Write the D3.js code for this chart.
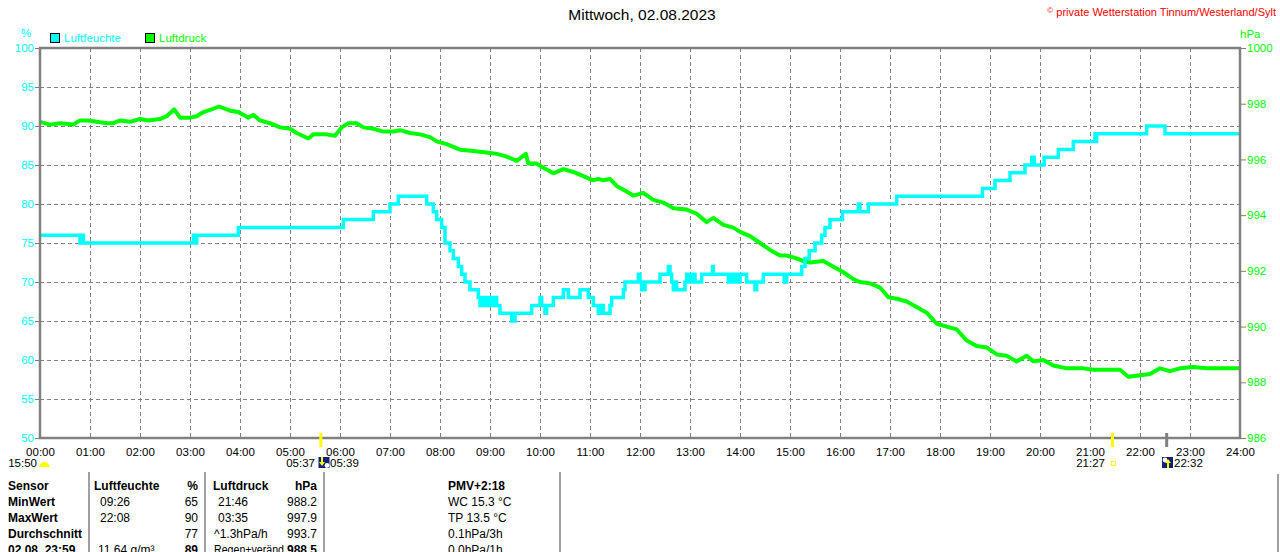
<!DOCTYPE html>
<html>
<head>
<meta charset="utf-8">
<script src="https://cdn.jsdelivr.net/npm/d3@7"></script>
<style>
  body { margin: 0; background: #fff; }
  svg { display: block; font-family: "Liberation Sans", Arial, sans-serif; }
</style>
</head>
<body>
<svg id="chart" width="1280" height="552"></svg>
<script>
/* ---------- data ---------- */
const title = 'Mittwoch, 02.08.2023';
const credit = 'private Wetterstation Tinnum/Westerland/Sylt';

const hourTicks = d3.range(0, 25);                       // 00:00 .. 24:00
const humTicks = [50, 55, 60, 65, 70, 75, 80, 85, 90, 95, 100];
const pressTicks = [986, 988, 990, 992, 994, 996, 998, 1000];

// Luftfeuchte, % — change points (value holds until the next entry)
const humidity = [
  ['00:00', 76], ['00:48', 75], ['00:50', 76], ['00:52', 75], ['03:04', 76], ['03:06', 75],
  ['03:08', 76], ['03:58', 77], ['06:04', 78], ['06:40', 79], ['07:00', 80], ['07:10', 81],
  ['07:44', 80], ['07:52', 79], ['07:56', 78], ['08:02', 77], ['08:06', 75], ['08:12', 74],
  ['08:16', 73], ['08:22', 72], ['08:26', 71], ['08:30', 70], ['08:36', 69], ['08:46', 68],
  ['08:48', 67], ['08:50', 68], ['08:52', 67], ['08:54', 68], ['08:56', 67], ['08:58', 68],
  ['09:00', 67], ['09:02', 68], ['09:04', 67], ['09:06', 68], ['09:08', 67], ['09:12', 66],
  ['09:26', 65], ['09:30', 66], ['09:50', 67], ['10:00', 68], ['10:02', 67], ['10:06', 66],
  ['10:08', 67], ['10:16', 68], ['10:28', 69], ['10:34', 68], ['10:48', 69], ['10:58', 68],
  ['11:04', 67], ['11:10', 66], ['11:12', 67], ['11:16', 66], ['11:24', 67], ['11:26', 68],
  ['11:40', 69], ['11:42', 70], ['11:58', 71], ['12:00', 70], ['12:02', 69], ['12:06', 70],
  ['12:24', 71], ['12:34', 72], ['12:36', 71], ['12:38', 70], ['12:40', 69], ['12:42', 70],
  ['12:44', 69], ['12:54', 70], ['12:56', 71], ['12:58', 70], ['13:00', 71], ['13:02', 70],
  ['13:04', 71], ['13:06', 70], ['13:14', 71], ['13:27', 72], ['13:28', 71], ['13:46', 70],
  ['13:48', 71], ['13:50', 70], ['13:54', 71], ['13:58', 70], ['14:00', 71], ['14:08', 70],
  ['14:18', 69], ['14:20', 70], ['14:28', 71], ['14:53', 70], ['14:56', 71], ['15:14', 72],
  ['15:18', 73], ['15:23', 74], ['15:30', 75], ['15:38', 76], ['15:42', 77], ['15:48', 78],
  ['16:03', 79], ['16:22', 80], ['16:24', 79], ['16:34', 80], ['17:08', 81], ['18:51', 82],
  ['19:06', 83], ['19:24', 84], ['19:42', 85], ['19:50', 86], ['19:53', 85], ['20:05', 86],
  ['20:22', 87], ['20:40', 88], ['21:06', 89], ['21:07', 88], ['21:08', 89], ['22:08', 90],
  ['22:30', 89], ['24:00', 89]
];

// Luftdruck, hPa
const pressure = [
  ['00:00', 997.35], ['00:12', 997.25], ['00:24', 997.3], ['00:40', 997.25], ['00:48', 997.4],
  ['00:58', 997.4], ['01:08', 997.35], ['01:20', 997.3], ['01:28', 997.3], ['01:36', 997.4],
  ['01:48', 997.35], ['02:00', 997.45], ['02:10', 997.4], ['02:24', 997.45], ['02:32', 997.55],
  ['02:41', 997.8], ['02:48', 997.5], ['03:00', 997.5], ['03:08', 997.55], ['03:16', 997.7],
  ['03:26', 997.8], ['03:35', 997.9], ['03:48', 997.75], ['03:58', 997.7], ['04:10', 997.5],
  ['04:16', 997.6], ['04:24', 997.4], ['04:36', 997.3], ['04:48', 997.15], ['05:00', 997.1],
  ['05:08', 996.95], ['05:22', 996.75], ['05:28', 996.9], ['05:44', 996.9], ['05:54', 996.85],
  ['06:02', 997.15], ['06:10', 997.3], ['06:20', 997.3], ['06:28', 997.15], ['06:40', 997.1],
  ['06:52', 997.0], ['07:04', 997.0], ['07:12', 997.05], ['07:24', 996.95], ['07:36', 996.9],
  ['07:48', 996.8], ['07:56', 996.65], ['08:08', 996.55], ['08:24', 996.35], ['08:40', 996.3],
  ['08:56', 996.25], ['09:08', 996.2], ['09:20', 996.1], ['09:32', 995.95], ['09:43', 996.2],
  ['09:46', 995.85], ['09:56', 995.85], ['10:04', 995.7], ['10:16', 995.5], ['10:28', 995.65],
  ['10:40', 995.55], ['10:52', 995.4], ['11:04', 995.25], ['11:10', 995.3], ['11:16', 995.25],
  ['11:24', 995.3], ['11:32', 995.05], ['11:44', 994.85], ['11:52', 994.7], ['12:04', 994.8],
  ['12:16', 994.55], ['12:28', 994.45], ['12:40', 994.25], ['12:56', 994.2], ['13:08', 994.05],
  ['13:20', 993.75], ['13:28', 993.9], ['13:40', 993.65], ['13:52', 993.55], ['14:00', 993.4],
  ['14:12', 993.25], ['14:24', 993.0], ['14:36', 992.75], ['14:48', 992.55], ['14:56', 992.55],
  ['15:08', 992.45], ['15:16', 992.35], ['15:24', 992.3], ['15:40', 992.35], ['15:52', 992.15],
  ['16:04', 991.95], ['16:16', 991.7], ['16:24', 991.6], ['16:36', 991.55], ['16:48', 991.4],
  ['16:58', 991.05], ['17:08', 991.0], ['17:20', 990.9], ['17:32', 990.7], ['17:44', 990.5],
  ['17:56', 990.1], ['18:08', 990.0], ['18:20', 989.9], ['18:32', 989.5], ['18:44', 989.3],
  ['18:56', 989.25], ['19:08', 989.0], ['19:20', 988.95], ['19:32', 988.75], ['19:44', 988.95],
  ['19:52', 988.75], ['20:04', 988.8], ['20:16', 988.6], ['20:32', 988.5], ['20:52', 988.5],
  ['21:04', 988.45], ['21:20', 988.45], ['21:36', 988.45], ['21:46', 988.2], ['22:00', 988.25],
  ['22:12', 988.3], ['22:24', 988.5], ['22:36', 988.4], ['22:48', 988.5], ['23:04', 988.55],
  ['23:20', 988.5], ['23:36', 988.5], ['24:00', 988.5]
];

// sun / moon events under the time axis
const events = [
  { time: '05:37', kind: 'sunrise' },
  { time: '21:27', kind: 'sunset' },
  { time: '22:32', kind: 'moonrise' }
];

// statistics table
const tableRows = [
  ['Sensor',       'Luftfeuchte', '%',  'Luftdruck',    'hPa',   'PMV+2:18'],
  ['MinWert',      '09:26',       '65', '21:46',        '988.2', 'WC 15.3 °C'],
  ['MaxWert',      '22:08',       '90', '03:35',        '997.9', 'TP 13.5 °C'],
  ['Durchschnitt', '',            '77', '^1.3hPa/h',    '993.7', '0.1hPa/3h'],
  ['02.08. 23:59', '11.64 g/m³',  '89', 'Regen+veränd', '988.5', '0.0hPa/1h']
];

/* ---------- setup ---------- */
const CYAN = '#00ffff', GREEN = '#00ff00', GRAY = '#808080', YELLOW = '#ffff00';
const svg = d3.select('#chart');
const L = 40, R = 1240, T = 48, B = 438;

const toMin = s => { const [h, m] = s.split(':').map(Number); return h * 60 + m; };
const x = d3.scaleLinear().domain([0, 1440]).range([L, R]);
const yHum = d3.scaleLinear().domain([50, 100]).range([B, T]);
const yPress = d3.scaleLinear().domain([986, 1000]).range([B, T]);

/* ---------- header ---------- */
svg.append('text').attr('x', 642).attr('y', 20).attr('text-anchor', 'middle')
  .attr('font-size', 15.5).attr('fill', '#000').text(title);

const cr = svg.append('text').attr('x', 1276).attr('y', 16).attr('text-anchor', 'end')
  .attr('font-size', 11).attr('fill', '#ff0000');
cr.append('tspan').attr('font-size', 8).attr('dy', -3).text('©');
cr.append('tspan').attr('dy', 3).text(' ' + credit);

svg.append('text').attr('x', 26).attr('y', 37).attr('text-anchor', 'middle')
  .attr('font-size', 11.5).attr('fill', CYAN).text('%');
svg.append('text').attr('x', 1240).attr('y', 38)
  .attr('font-size', 11.5).attr('fill', GREEN).text('hPa');

const legend = [
  { label: 'Luftfeuchte', color: CYAN, x: 50 },
  { label: 'Luftdruck', color: GREEN, x: 145 }
];
legend.forEach(d => {
  svg.append('rect').attr('x', d.x + 0.5).attr('y', 33.5).attr('width', 9).attr('height', 9)
    .attr('fill', d.color).attr('stroke', '#000').attr('stroke-width', 1);
  svg.append('text').attr('x', d.x + 14).attr('y', 42)
    .attr('font-size', 11.5).attr('fill', d.color).text(d.label);
});

/* ---------- grid ---------- */
const grid = svg.append('g').attr('stroke', GRAY).attr('stroke-width', 1)
  .attr('stroke-dasharray', '4,3').attr('shape-rendering', 'crispEdges');
grid.selectAll('.vg').data(hourTicks.slice(1, -1)).join('line')
  .attr('x1', h => x(h * 60)).attr('x2', h => x(h * 60)).attr('y1', T).attr('y2', B);
grid.selectAll('.hg').data(humTicks.slice(1, -1)).join('line')
  .attr('x1', L).attr('x2', R).attr('y1', d => yHum(d)).attr('y2', d => yHum(d));

/* ---------- axes ---------- */
const fmtHour = h => d3.format('02d')(h) + ':00';

const axL = svg.append('g').attr('transform', `translate(${L},0)`)
  .call(d3.axisLeft(yHum).tickValues(humTicks).tickSize(5).tickPadding(1));
axL.select('.domain').remove();
axL.selectAll('line').attr('stroke', GRAY);
axL.selectAll('text').attr('fill', CYAN).attr('font-size', 11.5).attr('font-family', null);

const axR = svg.append('g').attr('transform', `translate(${R},0)`)
  .call(d3.axisRight(yPress).tickValues(pressTicks).tickFormat(d3.format('d'))
    .tickSize(6).tickPadding(1));
axR.select('.domain').remove();
axR.selectAll('line').attr('stroke', GRAY);
axR.selectAll('text').attr('fill', GREEN).attr('font-size', 11.5).attr('font-family', null);

const axB = svg.append('g').attr('transform', `translate(0,${B})`)
  .call(d3.axisBottom(x).tickValues(hourTicks.map(h => h * 60)).tickFormat(m => fmtHour(m / 60))
    .tickSize(0).tickPadding(10));
axB.select('.domain').remove();
axB.selectAll('text').attr('fill', '#000').attr('font-size', 11.5).attr('font-family', null);

/* ---------- series ---------- */
const pressLine = d3.line().x(d => x(toMin(d[0]))).y(d => yPress(d[1]));
svg.append('path').datum(pressure).attr('d', pressLine)
  .attr('fill', 'none').attr('stroke', GREEN).attr('stroke-width', 4).attr('stroke-linejoin', 'round');

const humLine = d3.line().x(d => x(toMin(d[0]))).y(d => yHum(d[1])).curve(d3.curveStepAfter);
svg.append('path').datum(humidity).attr('d', humLine)
  .attr('fill', 'none').attr('stroke', CYAN).attr('stroke-width', 3.5);

/* ---------- frame ---------- */
svg.append('rect').attr('x', L).attr('y', T).attr('width', R - L).attr('height', B - T)
  .attr('fill', 'none').attr('stroke', GRAY).attr('stroke-width', 2.5);

/* ---------- sun / moon markers ---------- */
events.forEach(e => {
  const ex = x(toMin(e.time));
  svg.append('line').attr('x1', ex).attr('x2', ex).attr('y1', 433).attr('y2', 447)
    .attr('stroke', e.kind === 'moonrise' ? GRAY : YELLOW).attr('stroke-width', 3);
});

const evText = (tx, anchor, s) => svg.append('text').attr('x', tx).attr('y', 467)
  .attr('text-anchor', anchor).attr('font-size', 11.5).attr('fill', '#000').text(s);

// moon phase at 15:50
evText(37, 'end', '15:50');
svg.append('path').attr('d', d3.arc()({ innerRadius: 0, outerRadius: 5, startAngle: -Math.PI / 2, endAngle: Math.PI / 2 }))
  .attr('transform', 'translate(44.5,467)').attr('fill', YELLOW);

// sunrise 05:37 / moonset 05:39
evText(315, 'end', '05:37');
const icon = (ix, up) => {
  const g = svg.append('g').attr('transform', `translate(${ix},457)`);
  g.append('rect').attr('width', 11).attr('height', 11).attr('fill', '#10207a');
  g.append('circle').attr('cx', up ? 3 : 8.5).attr('cy', up ? 3 : 8.5).attr('r', 2.4).attr('fill', '#fff');
  const ax = up ? 6 : 3.5;
  g.append('path').attr('fill', YELLOW)
    .attr('d', up ? `M${ax - 3},6 L${ax},2 L${ax + 3},6 L${ax + 1},6 L${ax + 1},11 L${ax - 1},11 L${ax - 1},6Z`
                  : `M${ax - 1},0 L${ax + 1},0 L${ax + 1},5 L${ax + 3},5 L${ax},9 L${ax - 3},5 L${ax - 1},5Z`);
};
icon(318.5, false);
evText(330, 'start', '05:39');

// sunset 21:27
evText(1105, 'end', '21:27');
svg.append('rect').attr('x', 1111.5).attr('y', 461.5).attr('width', 4).attr('height', 4)
  .attr('fill', 'none').attr('stroke', YELLOW).attr('stroke-width', 1);

// moonrise 22:32
icon(1162, true);
evText(1174, 'start', '22:32');

/* ---------- table ---------- */
const tbl = svg.append('g').attr('font-size', 12).attr('fill', '#000');
[89, 205, 324, 560].forEach(lx => {
  svg.append('line').attr('x1', lx).attr('x2', lx).attr('y1', 472).attr('y2', 552)
    .attr('stroke', GRAY).attr('stroke-width', 1.5);
});
svg.append('line').attr('x1', 1278).attr('x2', 1278).attr('y1', 474).attr('y2', 552)
  .attr('stroke', GRAY).attr('stroke-width', 1.5);

const cols = [
  { x: 8, anchor: 'start' },
  { x: 100, anchor: 'start' },
  { x: 198, anchor: 'end' },
  { x: 218, anchor: 'start' },
  { x: 317, anchor: 'end' },
  { x: 448, anchor: 'start' }
];
tableRows.forEach((row, ri) => {
  row.forEach((cell, ci) => {
    let cx = cols[ci].x;
    if (ri === 0 && ci === 1) cx = 94;
    if (ri === 0 && ci === 3) cx = 213;
    if (ri >= 3 && ci === 3) cx = 214;
    if (ri === 4 && ci === 1) cx = 98;
    const bold = ri === 0 || ci === 0 || (ri === 4 && (ci === 2 || ci === 4));
    const t = tbl.append('text').attr('x', cx).attr('y', 489.5 + ri * 16)
      .attr('text-anchor', cols[ci].anchor)
      .attr('font-weight', bold ? 'bold' : 'normal').text(cell);
    // the station software squeezes this one cell against the value column
    if (ri === 4 && ci === 3) t.attr('textLength', 70).attr('lengthAdjust', 'spacingAndGlyphs');
  });
});
</script>
</body>
</html>
